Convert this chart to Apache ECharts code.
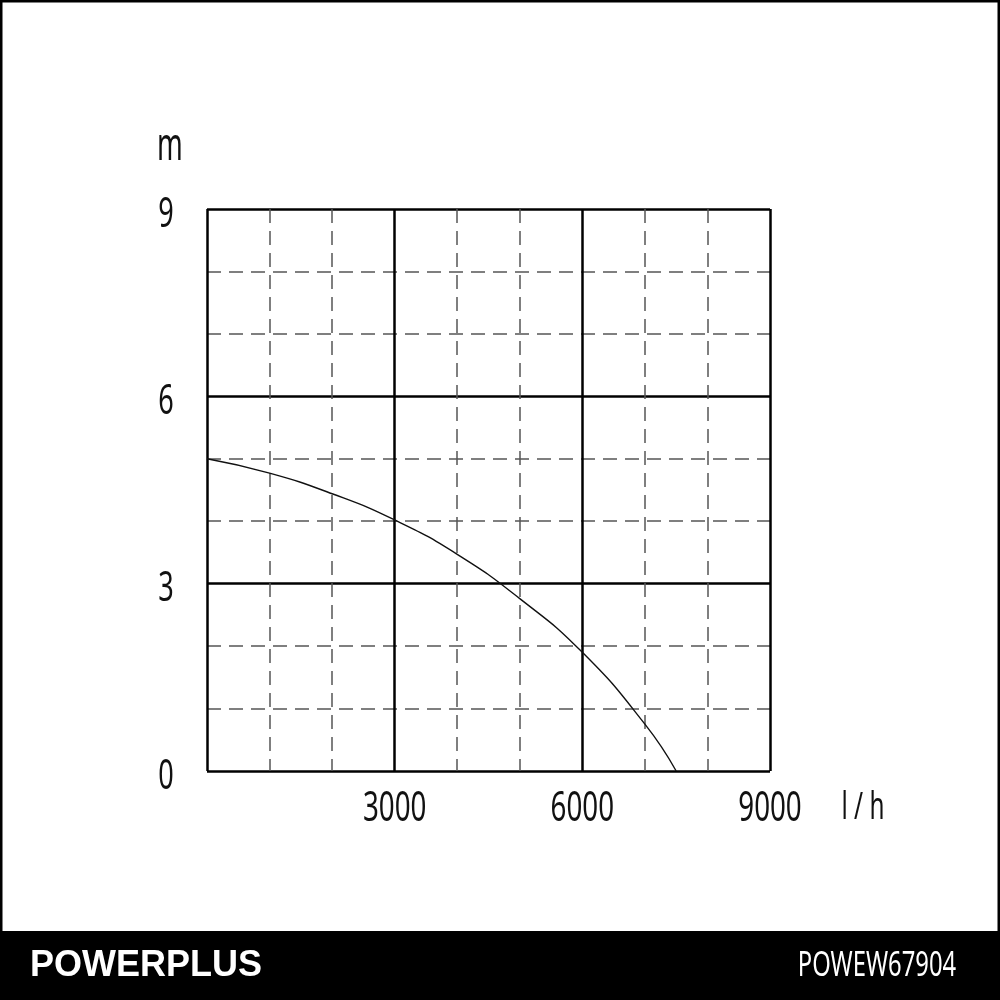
<!DOCTYPE html>
<html>
<head>
<meta charset="utf-8">
<script src="https://cdn.jsdelivr.net/npm/echarts@6/dist/echarts.min.js"></script>
<style>
  html, body { margin: 0; padding: 0; background: #fff; }
  #main { width: 1000px; height: 1000px; }
</style>
</head>
<body>
<div id="main"></div>
<script>
// pump curve: flow (l/h) vs head (m)
var flow = [0, 1000, 2000, 3000, 4000, 5000, 6000, 7000, 7500];
var head = [5.0, 4.77, 4.44, 4.02, 3.47, 2.76, 1.9, 0.75, 0];
var xTicks = [3000, 6000, 9000];
var yTicks = [0, 3, 6, 9];

var labelFont = "'Noto Sans', 'DejaVu Sans', sans-serif";
var squeeze = 0.66; // the original uses a condensed face

var points = flow.map(function (f, i) { return [f, head[i]]; });

var option = {
  backgroundColor: '#FFFFFF',
  animation: false,
  grid: { left: 207, right: 230, top: 209, bottom: 229 },
  xAxis: {
    type: 'value', min: 0, max: 9000, interval: 3000,
    axisLine: { show: false },
    axisTick: { show: false },
    axisLabel: { show: false },
    splitLine: { show: true, lineStyle: { color: '#000', width: 2.5 } },
    minorTick: { show: false, splitNumber: 3 },
    minorSplitLine: { show: true, lineStyle: { color: '#555', width: 1.5, type: [14, 8] } }
  },
  yAxis: {
    type: 'value', min: 0, max: 9, interval: 3,
    axisLine: { show: false },
    axisTick: { show: false },
    axisLabel: { show: false },
    splitLine: { show: true, lineStyle: { color: '#000', width: 2.5 } },
    minorTick: { show: false, splitNumber: 3 },
    minorSplitLine: { show: true, lineStyle: { color: '#555', width: 1.5, type: [14, 8] } }
  },
  series: [{
    type: 'line',
    data: points,
    smooth: true,
    symbol: 'none',
    lineStyle: { color: '#111', width: 1.4 },
    z: 5
  }]
};

var chart = echarts.init(document.getElementById('main'));
chart.setOption(option);

// narrow text: placed at the axis positions, squeezed horizontally
function narrowText(str, x, y, size, color, sx) {
  return {
    type: 'text', x: x, y: y, scaleX: sx || squeeze, z: 10,
    style: {
      text: str, x: 0, y: 0, fill: color || '#111',
      font: size + 'px ' + labelFont,
      textAlign: 'center', textVerticalAlign: 'middle',
      align: 'center', verticalAlign: 'middle'
    }
  };
}

var x0 = chart.convertToPixel({ xAxisIndex: 0 }, 0);
var y0 = chart.convertToPixel({ yAxisIndex: 0 }, 0);
var xMax = chart.convertToPixel({ xAxisIndex: 0 }, 9000);
var yMax = chart.convertToPixel({ yAxisIndex: 0 }, 9);

var labels = [];
xTicks.forEach(function (v) {
  labels.push(narrowText(String(v), chart.convertToPixel({ xAxisIndex: 0 }, v), y0 + 38, 42));
});
yTicks.forEach(function (v) {
  labels.push(narrowText(String(v), x0 - 41, chart.convertToPixel({ yAxisIndex: 0 }, v) + 6, 41));
});
// axis units
labels.push(narrowText('m', x0 - 37, yMax - 62, 46, '#111', 0.6));
labels.push(narrowText('l / h', xMax + 93, y0 + 37, 38, '#111', 0.64));

// footer band and frame
labels.push({ type: 'rect', shape: { x: 0, y: 931, width: 1000, height: 69 }, style: { fill: '#000' } });
labels.push({ type: 'rect', shape: { x: 1, y: 1, width: 998, height: 998 }, style: { fill: 'none', stroke: '#000', lineWidth: 3 } });
labels.push({ type: 'text', left: 30, top: 948, style: { text: 'POWERPLUS', fill: '#fff', font: 'bold 36px "Liberation Sans", Arial, sans-serif' } });
labels.push(narrowText('POWEW67904', 877, 966, 34, '#fff', 0.7));

chart.setOption({ graphic: labels });
</script>
</body>
</html>
